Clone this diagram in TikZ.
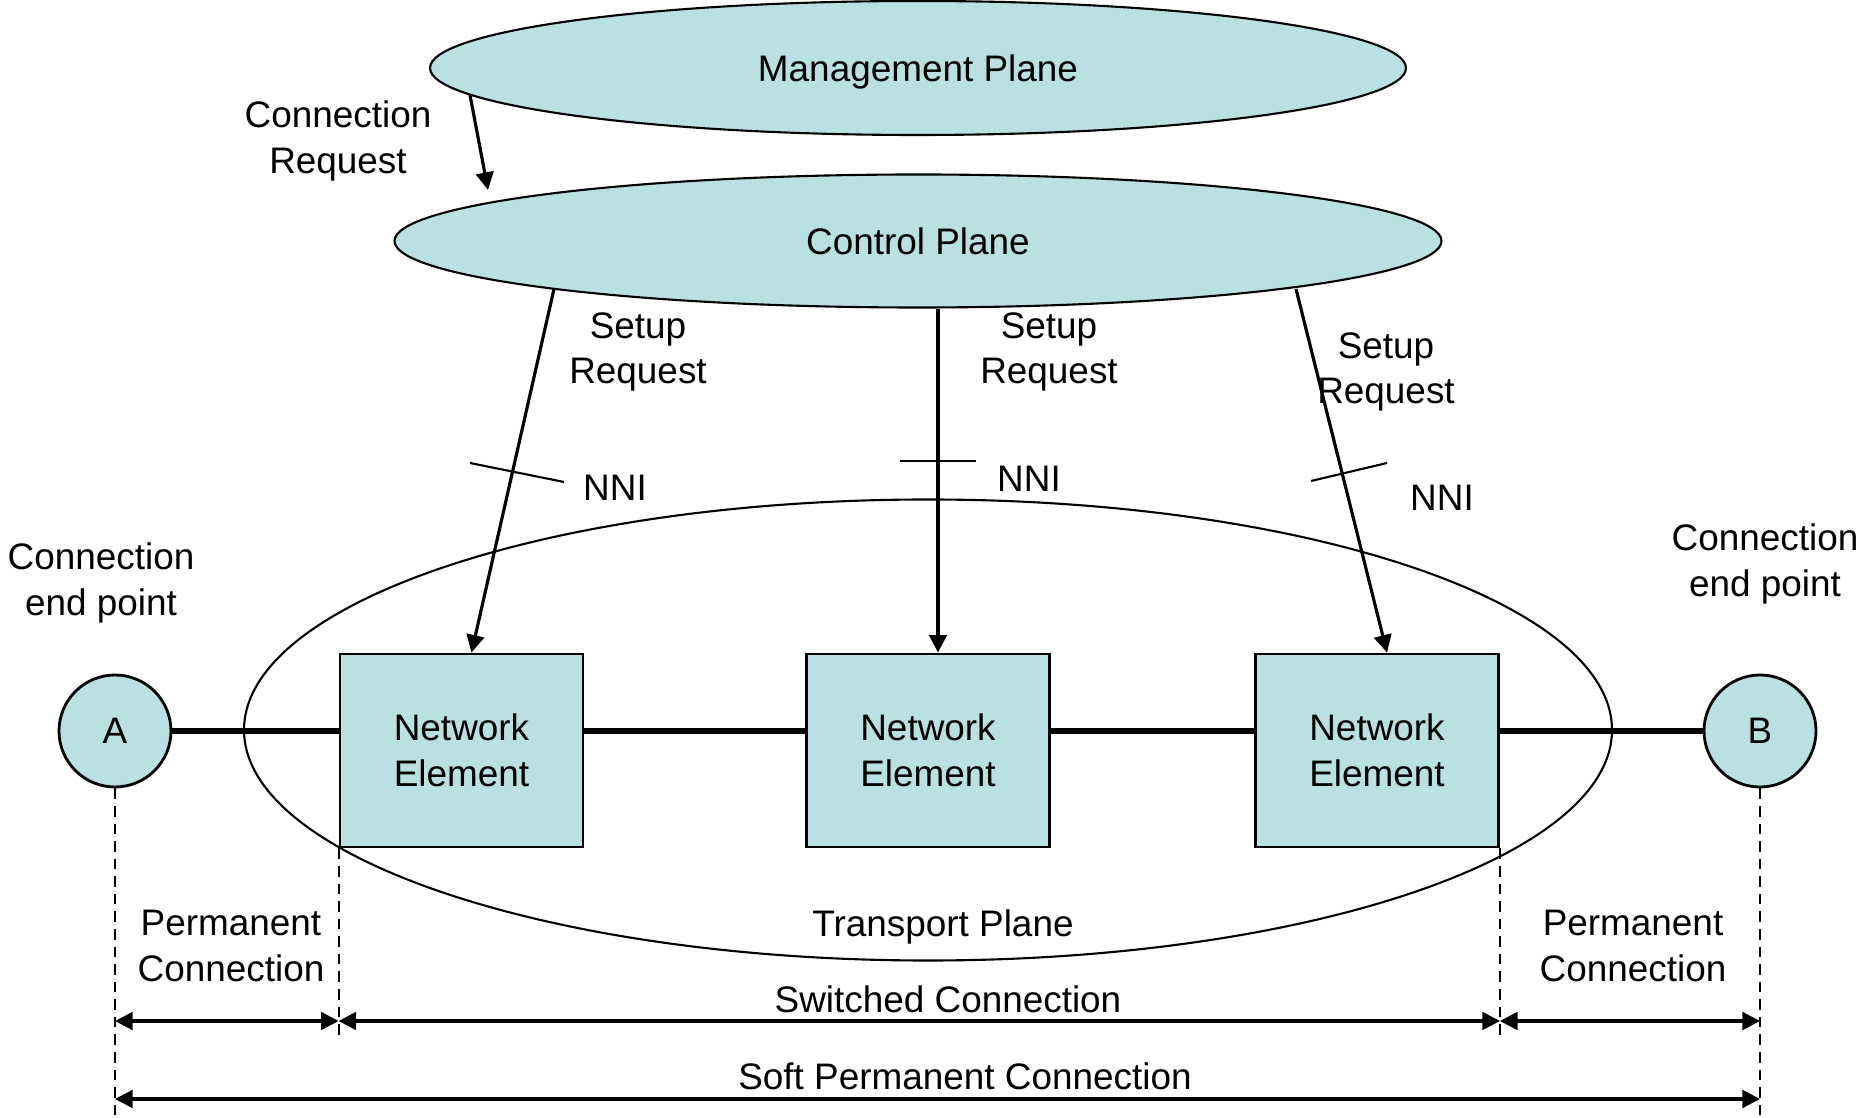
\documentclass[tikz,border=0pt]{standalone}
\usepackage{fontspec}
\setmainfont{Liberation Sans}
\usetikzlibrary{shapes.geometric,arrows.meta}
\definecolor{planeColor}{RGB}{185,224,227}

\begin{document}
\begin{tikzpicture}[
    plane/.style={ellipse, draw, line width=0.6pt, fill=planeColor, inner sep=0pt, text depth=0pt},
    elem/.style={draw, line width=0.8pt, fill=planeColor, minimum width=2.43cm, minimum height=1.93cm, align=center},
    endpt/.style={circle, draw, line width=0.8pt, fill=planeColor, minimum size=1.12cm, inner sep=0pt},
    lbl/.style={align=center, inner sep=0pt, text depth=0pt},
    req/.style={-{Triangle[length=5pt,width=5pt]}, line width=0.9pt},
    dim/.style={{Triangle[length=5pt,width=5pt]}-{Triangle[length=5pt,width=5pt]}, line width=0.9pt},
    guide/.style={line width=0.6pt, dash pattern=on 3pt off 2pt},
    font=\fontsize{10.5}{13}\selectfont]
    \useasboundingbox (0,0) rectangle (18.65,11.17);
    % planes
    \node[plane, minimum width=9.76cm, minimum height=1.34cm] (mp) at (9.18,10.49) {Management Plane};
    \node[plane, minimum width=10.47cm, minimum height=1.33cm] (cp) at (9.18,8.76) {Control Plane};
    \node[ellipse, draw, line width=0.6pt, minimum width=13.68cm, minimum height=4.61cm] (tp) at (9.28,3.87) {};
    \node[lbl] (tplbl) at (9.43,1.94) {Transport Plane};
    % network elements and end points
    \node[elem] (ne1) at (4.615,3.665) {Network\\Element};
    \node[elem] (ne2) at (9.28,3.665) {Network\\Element};
    \node[elem] (ne3) at (13.77,3.665) {Network\\Element};
    \node[endpt] (A) at (1.15,3.86) {A};
    \node[endpt] (B) at (17.60,3.86) {B};
    \draw[line width=1.7pt] (A) -- (A -| ne1.west);
    \draw[line width=1.7pt] (ne1.east |- A) -- (ne2.west |- A);
    \draw[line width=1.7pt] (ne2.east |- A) -- (ne3.west |- A);
    \draw[line width=1.7pt] (ne3.east |- A) -- (B);
    % requests
    \node[lbl] (creq) at (3.38,9.80) {Connection\\Request};
    \draw[req] ([shift={(-4.48,-0.27)}]mp.center) -- ([shift={(-4.30,0.51)}]cp.center);
    \draw[req] ([shift={(-3.64,-0.48)}]cp.center) -- ([xshift=1mm]ne1.north);
    \draw[req] ([xshift=1mm]ne2.north |- cp.south) -- ([xshift=1mm]ne2.north);
    \draw[req] ([shift={(3.78,-0.48)}]cp.center) -- ([xshift=1mm]ne3.north);
    \node[lbl] (sreq1) at (6.38,7.69) {Setup\\Request};
    \node[lbl] (sreq2) at (10.49,7.69) {Setup\\Request};
    \node[lbl] (sreq3) at (13.86,7.49) {Setup\\Request};
    % NNI marks
    \draw[line width=0.6pt] (4.70,6.54) -- (5.64,6.35);
    \draw[line width=0.6pt] (9.00,6.56) -- (9.76,6.56);
    \draw[line width=0.6pt] (13.11,6.36) -- (13.87,6.54);
    \node[lbl] (nni1) at (6.15,6.29) {NNI};
    \node[lbl] (nni2) at (10.29,6.38) {NNI};
    \node[lbl] (nni3) at (14.42,6.19) {NNI};
    \node[lbl] (cepA) at (1.01,5.38) {Connection\\end point};
    \node[lbl] (cepB) at (17.65,5.57) {Connection\\end point};
    % connection spans
    \coordinate (row1) at (0,0.96);
    \coordinate (row2) at (0,0.18);
    \draw[guide] (A.south) -- (A.south |- 0,0);
    \draw[guide] (B.south) -- (B.south |- 0,0);
    \draw[guide] (ne1.south west) -- (ne1.south west |- 0,0.82);
    \draw[guide] (ne3.south east) -- (ne3.south east |- 0,0.82);
    \draw[dim] (A |- row1) -- (ne1.south west |- row1);
    \draw[dim] (ne1.south west |- row1) -- (ne3.south east |- row1);
    \draw[dim] (ne3.south east |- row1) -- (B |- row1);
    \draw[dim] (A |- row2) -- (B |- row2);
    \node[lbl] (perm1) at (2.31,1.71) {Permanent\\Connection};
    \node[lbl] (perm2) at (16.33,1.71) {Permanent\\Connection};
    \node[lbl] (switched) at (9.48,1.18) {Switched Connection};
    \node[lbl] (soft) at (9.65,0.41) {Soft Permanent Connection};
\end{tikzpicture}
\end{document}
